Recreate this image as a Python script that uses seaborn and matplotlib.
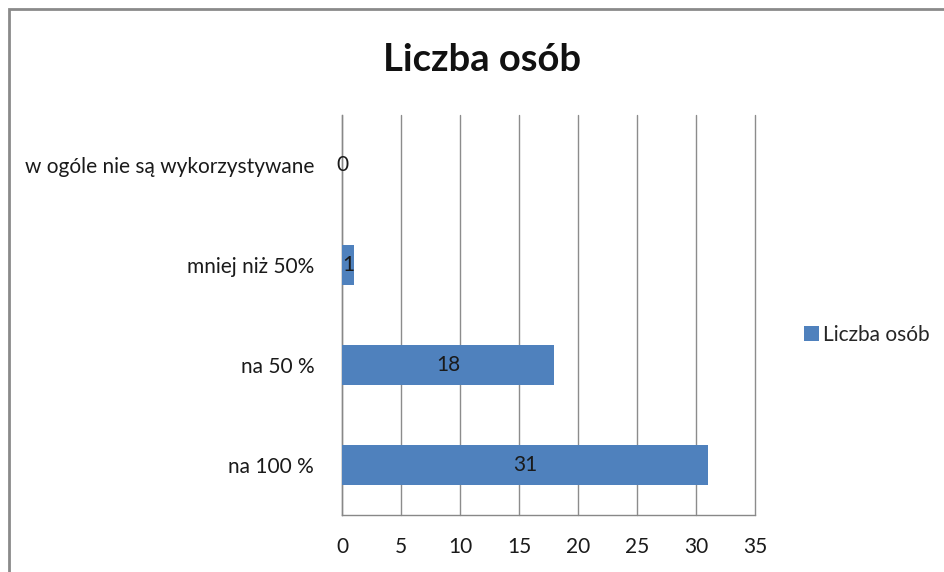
import numpy as np
import pandas as pd
import matplotlib
matplotlib.use("Agg")
import matplotlib.pyplot as plt
import seaborn as sns
from matplotlib.patches import Rectangle

# Dane
kategorie = ["w ogóle nie są wykorzystywane", "mniej niż 50%", "na 50 %", "na 100 %"]
liczba_osob = [0, 1, 18, 31]
seria = "Liczba osób"
x_ticks = [0, 5, 10, 15, 20, 25, 30, 35]

sns.set_style("white")
plt.rcParams["font.family"] = ["Lato", "DejaVu Sans"]

df = pd.DataFrame({"kategoria": kategorie, "wartosc": liczba_osob})

fig = plt.figure(figsize=(9.44, 5.72), dpi=100)
ax = fig.add_axes([342 / 944, 57 / 572, 413 / 944, 400 / 572])

kolor = "#4F81BD"
sns.barplot(data=df, x="wartosc", y="kategoria", orient="h", color=kolor,
            width=0.4, saturation=1, ax=ax, label=seria, zorder=3,
            linewidth=0, edgecolor=kolor)

# Etykiety danych
for i, v in enumerate(liczba_osob):
    ax.text(v / 2, i, str(v), ha="center", va="center", fontsize=15,
            color="#1a1a1a", zorder=4)

ax.set_xlim(0, 35)
ax.set_ylim(len(kategorie) - 0.5, -0.5)
ax.set_xticks(x_ticks)
ax.set_xticklabels([str(t) for t in x_ticks], fontsize=15, color="#1a1a1a")
ax.set_yticks(range(len(kategorie)))
ax.set_yticklabels(kategorie, fontsize=15, color="#1a1a1a")
ax.set_yticks(np.arange(-0.5, len(kategorie), 1), minor=True)
ax.tick_params(axis="y", which="major", length=0, pad=20)
ax.tick_params(axis="y", which="minor", length=6, color="#888888", width=1)
ax.tick_params(axis="x", which="major", length=6, color="#888888", width=1,
               pad=10, direction="out")
ax.set_xlabel("")
ax.set_ylabel("")

# Siatka pionowa
ax.grid(axis="x", color="#8c8c8c", linewidth=1, zorder=0)
ax.grid(axis="y", visible=False)
for gl in ax.get_xgridlines():
    gl.set_clip_on(False)
ax.set_axisbelow(True)

for s in ["top", "right"]:
    ax.spines[s].set_visible(False)
for s in ["left", "bottom"]:
    ax.spines[s].set_color("#888888")
    ax.spines[s].set_linewidth(1)

if ax.get_legend():
    ax.get_legend().remove()
h, l = ax.get_legend_handles_labels()
fig.legend(h[:1], l[:1], loc="center left", bbox_to_anchor=(804 / 944, 1 - 335 / 572),
           frameon=False, fontsize=15, handlelength=0.7, handleheight=0.7,
           handletextpad=0.2, borderpad=0, borderaxespad=0)

fig.text(482 / 944, 1 - 60 / 572, "Liczba osób", ha="center", va="center",
         fontsize=27.5, fontweight="bold", color="#111111")

# Ramka wykresu
fig.patches.append(Rectangle((9 / 944, -0.1), 1.2, 1.1 - 9 / 572,
                             transform=fig.transFigure, fill=False,
                             edgecolor="#8a8a8a", linewidth=2))

fig.savefig("out.png", dpi=100, facecolor="white")
